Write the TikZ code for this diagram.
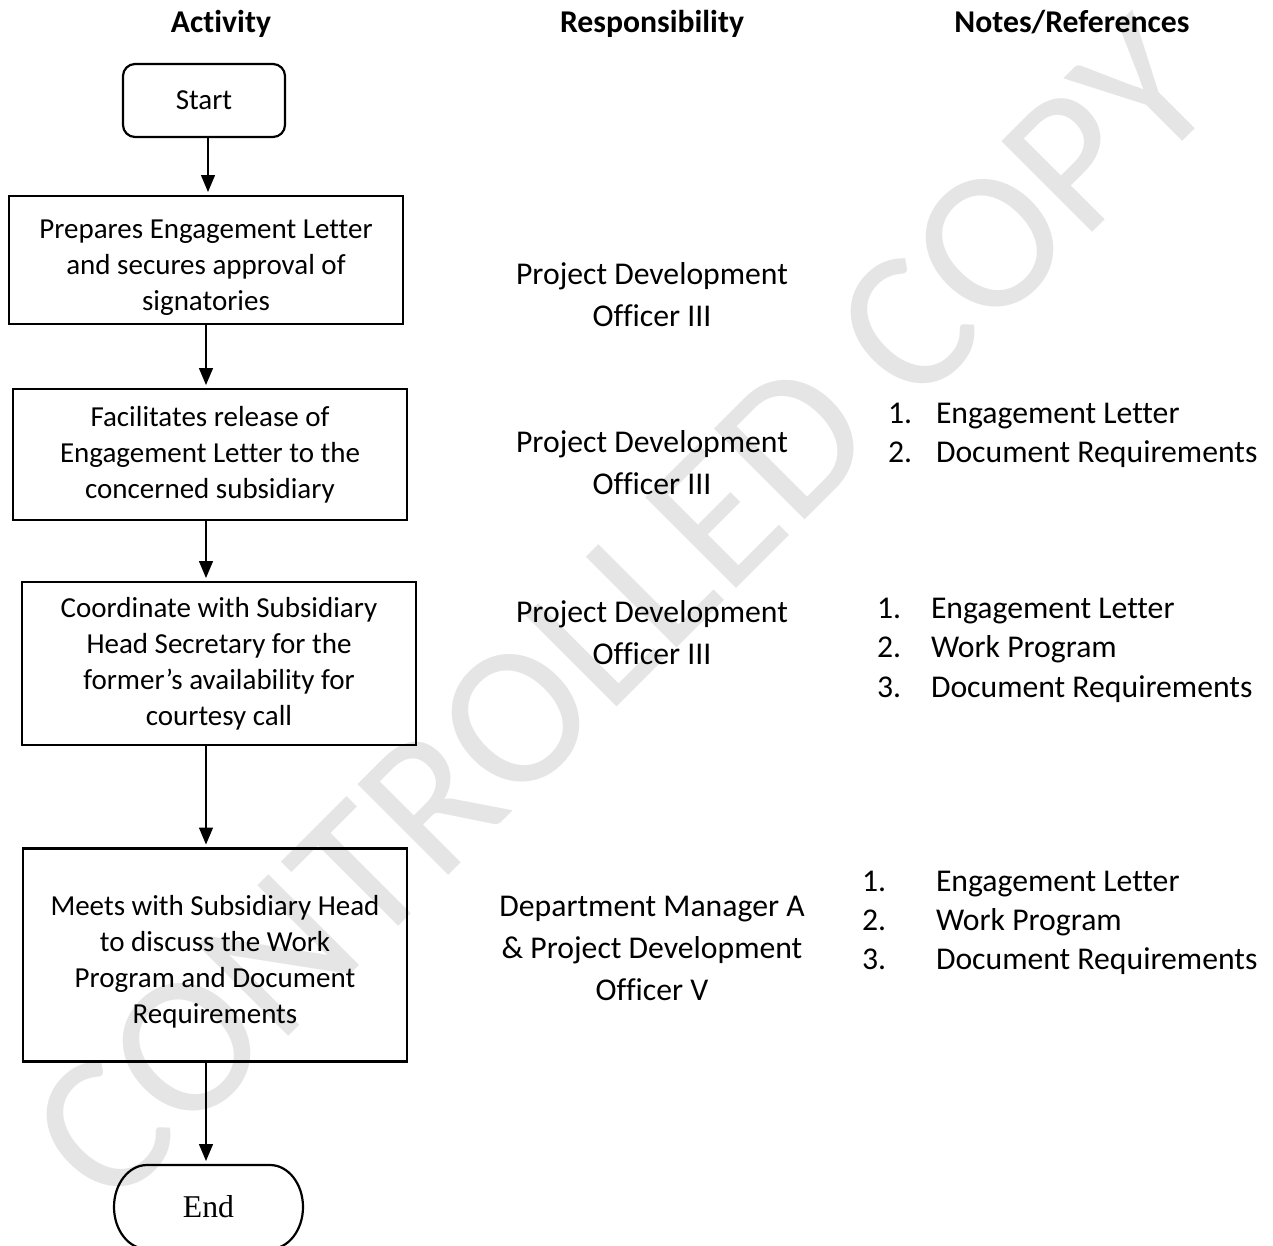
\documentclass[tikz,border=0pt]{standalone}
\usepackage{fontspec}
\setmainfont[Ligatures={NoCommon}]{Carlito}
\newfontfamily\endfont{Liberation Serif}
\newcommand\toppad{\rule{0pt}{33pt}}
\usetikzlibrary{arrows.meta}
\begin{document}
\begin{tikzpicture}[x=1pt,y=-1pt,
  every node/.style={inner sep=0pt, outer sep=0pt},
  procbox/.style={draw, line width=2.5pt, align=center, font=\fontsize{29}{36}\selectfont},
  flowarrow/.style={line width=1.3pt, -{Triangle[length=17pt,width=14pt]}, shorten <=1pt, shorten >=4pt},
  resp/.style={align=center, font=\fontsize{31.7}{42}\selectfont},
  notetext/.style={anchor=base west, font=\fontsize{31.7}{39.5}\selectfont},
  headtext/.style={anchor=base, font=\bfseries\fontsize{31.7}{38}\selectfont},
  wmark/.style={rotate=45, text=black!10, font=\fontsize{200}{200}\selectfont},
]
\useasboundingbox (0,0) rectangle (1273,1245);
\fill[white] (0,0) rectangle (1273,1245);

% watermark
\node[wmark] (wm) at (622,612) {CONTROLLED COPY};

% headers
\node[headtext] (h1) at (221,32) {Activity};
\node[headtext] (h2) at (652,32) {Responsibility};
\node[headtext] (h3) at (1072,32) {Notes/References};

% flow
\coordinate (ax) at (206,0);
\coordinate (ax0) at (208,0);
\node[draw, line width=2.2pt, rounded corners=12pt, minimum width=162pt, minimum height=73pt,
      font=\fontsize{29}{36}\selectfont] (start) at (204,100.5) {Start};
\node[procbox, minimum width=394pt, minimum height=128pt] (b1) at (206,260)
  {\toppad Prepares Engagement Letter\\and secures approval of\\signatories};
\node[procbox, minimum width=394pt, minimum height=131pt] (b2) at (210,454.5)
  {Facilitates release of\\Engagement Letter to the\\concerned subsidiary};
\node[procbox, minimum width=394pt, minimum height=163pt] (b3) at (219,663.5)
  {Coordinate with Subsidiary\\Head Secretary for the\\former’s availability for\\courtesy call};
\node[procbox, minimum width=384pt, minimum height=213pt] (b4) at (215,955)
  {\toppad Meets with Subsidiary Head\\to discuss the Work\\Program and Document\\Requirements};
\node[minimum width=189pt, minimum height=84pt, font=\endfont\fontsize{31.7}{38}\selectfont] (end) at (208.5,1207) {End};
\draw[line width=2.2pt] ([xshift=33pt]end.north west) -- ([xshift=-33pt]end.north east)
  arc[start angle=90, end angle=-90, x radius=33pt, y radius=42pt]
  -- ([xshift=33pt]end.south west)
  arc[start angle=270, end angle=90, x radius=33pt, y radius=42pt] -- cycle;

\draw[flowarrow] (start.south -| ax0) -- (b1.north -| ax0);
\draw[flowarrow] (b1.south -| ax) -- (b2.north -| ax);
\draw[flowarrow] (b2.south -| ax) -- (b3.north -| ax);
\draw[flowarrow] (b3.south -| ax) -- (b4.north -| ax);
\draw[flowarrow] (b4.south -| ax) -- (end.north -| ax);

% responsibility
\node[resp] (r1) at (652,295) {Project Development\\Officer III};
\node[resp] (r2) at (652,463) {Project Development\\Officer III};
\node[resp] (r3) at (652,633) {Project Development\\Officer III};
\node[resp] (r4) at (652,948) {Department Manager A\\\& Project Development\\Officer V};

% notes
\node[notetext] (n2a) at (888,423) {1.};
\node[notetext] (n2at) at (936,423) {Engagement Letter};
\node[notetext] (n2b) at (888,462) {2.};
\node[notetext] (n2bt) at (936,462) {Document Requirements};

\node[notetext] (n3a) at (877,618) {1.};
\node[notetext] (n3at) at (931,618) {Engagement Letter};
\node[notetext] (n3b) at (877,657.5) {2.};
\node[notetext] (n3bt) at (931,657.5) {Work Program};
\node[notetext] (n3c) at (877,697) {3.};
\node[notetext] (n3ct) at (931,697) {Document Requirements};

\node[notetext] (n4a) at (862,891) {1.};
\node[notetext] (n4at) at (936,891) {Engagement Letter};
\node[notetext] (n4b) at (862,930) {2.};
\node[notetext] (n4bt) at (936,930) {Work Program};
\node[notetext] (n4c) at (862,969) {3.};
\node[notetext] (n4ct) at (936,969) {Document Requirements};
\end{tikzpicture}
\end{document}
